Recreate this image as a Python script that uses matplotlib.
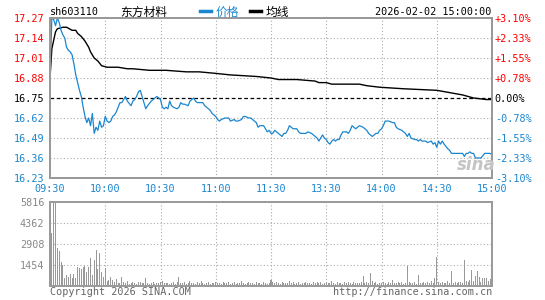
import numpy as np
import matplotlib.pyplot as plt
from matplotlib.lines import Line2D

# ---- data ----
code = 'sh603110'
name = '东方材料'
stamp = '2026-02-02 15:00:00'
prev_close = 16.75

price_ticks = [17.27, 17.14, 17.01, 16.88, 16.75, 16.62, 16.49, 16.36, 16.23]
pct_labels = ['+3.10%', '+2.33%', '+1.55%', '+0.78%', '0.00%',
              '-0.78%', '-1.55%', '-2.33%', '-3.10%']
time_labels = ['09:30', '10:00', '10:30', '11:00', '11:30',
               '13:30', '14:00', '14:30', '15:00']
vol_ticks = [1454, 2908, 4362, 5816]

price_min = [0, 1, 2, 3, 4, 5, 6, 7, 8, 9, 10, 11, 12, 13, 14, 15, 16, 17, 18, 19,
             20, 21, 22, 23, 24, 25, 26, 27, 28, 29, 30, 31, 32, 33, 34, 35, 36, 37, 38, 39,
             40, 41, 42, 44, 45, 46, 47, 48, 49, 50, 51, 52, 53, 55, 56, 58, 59, 60, 61, 62,
             63, 64, 65, 66, 67, 69, 70, 71, 72, 73, 75, 76, 77, 78, 79, 80, 81, 83, 84, 85,
             87, 88, 90, 91, 92, 93, 95, 96, 97, 98, 100, 101, 102, 104, 105, 106, 108, 109, 110, 112,
             113, 114, 116, 117, 118, 119, 120, 121, 122, 123, 125, 126, 127, 128, 129, 130, 131, 132, 134, 135,
             136, 138, 139, 140, 142, 143, 145, 146, 147, 148, 149, 150, 151, 152, 153, 154, 155, 156, 157, 158,
             159, 160, 161, 162, 163, 164, 165, 166, 167, 168, 170, 171, 172, 173, 174, 175, 176, 177, 178, 179,
             180, 181, 182, 184, 186, 187, 188, 189, 191, 192, 193, 194, 195, 196, 198, 199, 200, 201, 202, 203,
             204, 205, 207, 208, 209, 210, 211, 212, 213, 214, 216, 217, 218, 219, 221, 223, 224, 225, 226, 227,
             228, 229, 230, 231, 233, 234, 236, 237, 239, 240]
price = [16.88, 17.27, 17.26, 17.22, 17.27, 17.24, 17.19, 17.16, 17.14, 17.08, 17.06, 17.05, 17.03, 16.97, 16.90, 16.85, 16.80, 16.76, 16.69, 16.63,
         16.59, 16.62, 16.57, 16.65, 16.52, 16.56, 16.54, 16.60, 16.56, 16.57, 16.63, 16.60, 16.59, 16.60, 16.63, 16.64, 16.66, 16.69, 16.72, 16.72,
         16.74, 16.76, 16.73, 16.70, 16.73, 16.74, 16.76, 16.79, 16.80, 16.76, 16.72, 16.68, 16.70, 16.73, 16.74, 16.76, 16.75, 16.74, 16.69, 16.68,
         16.69, 16.68, 16.73, 16.70, 16.69, 16.68, 16.69, 16.72, 16.71, 16.71, 16.70, 16.73, 16.74, 16.75, 16.73, 16.72, 16.72, 16.72, 16.70, 16.69,
         16.67, 16.65, 16.63, 16.61, 16.60, 16.61, 16.62, 16.62, 16.62, 16.60, 16.61, 16.60, 16.60, 16.61, 16.63, 16.63, 16.62, 16.62, 16.61, 16.59,
         16.56, 16.57, 16.57, 16.55, 16.53, 16.54, 16.52, 16.52, 16.54, 16.53, 16.51, 16.50, 16.52, 16.52, 16.54, 16.57, 16.56, 16.55, 16.55, 16.53,
         16.52, 16.52, 16.52, 16.53, 16.52, 16.51, 16.49, 16.47, 16.49, 16.51, 16.49, 16.48, 16.46, 16.45, 16.47, 16.48, 16.47, 16.48, 16.48, 16.51,
         16.53, 16.53, 16.53, 16.52, 16.54, 16.57, 16.56, 16.55, 16.56, 16.57, 16.56, 16.55, 16.54, 16.52, 16.51, 16.50, 16.51, 16.52, 16.52, 16.54,
         16.55, 16.57, 16.60, 16.60, 16.59, 16.59, 16.56, 16.55, 16.54, 16.53, 16.52, 16.50, 16.52, 16.49, 16.48, 16.48, 16.47, 16.48, 16.47, 16.47,
         16.47, 16.46, 16.47, 16.45, 16.46, 16.43, 16.47, 16.45, 16.47, 16.45, 16.42, 16.41, 16.39, 16.39, 16.39, 16.39, 16.39, 16.37, 16.39, 16.39,
         16.40, 16.39, 16.39, 16.36, 16.36, 16.36, 16.39, 16.39, 16.39, 16.38]

avg_min = [0, 1, 3, 4, 7, 9, 12, 14, 15, 17, 19, 21, 22, 24, 25, 26, 28, 31, 37, 42,
           45, 54, 63, 74, 81, 90, 98, 112, 120, 124, 134, 144, 146, 150, 153, 168, 172, 179, 192, 210,
           224, 230, 237, 240]
avg = [16.88, 17.07, 17.18, 17.20, 17.21, 17.21, 17.19, 17.19, 17.17, 17.15, 17.12, 17.08, 17.05, 17.01, 17.00, 16.99, 16.96, 16.95, 16.95, 16.94,
       16.94, 16.93, 16.93, 16.92, 16.92, 16.91, 16.90, 16.89, 16.88, 16.87, 16.87, 16.86, 16.85, 16.85, 16.84, 16.84, 16.83, 16.82, 16.81, 16.80,
       16.77, 16.75, 16.74, 16.74]

volume = [460, 3650, 7200, 6500, 2610, 2420, 1680, 1450, 530, 760,
          640, 830, 530, 830, 530, 1290, 1220, 1150, 1340, 1380,
          990, 1290, 1920, 760, 1800, 2490, 1150, 2300, 990, 600,
          1220, 370, 415, 600, 415, 300, 460, 230, 180, 600,
          260, 190, 320, 150, 240, 280, 210, 170, 250, 300,
          220, 180, 530, 240, 160, 200, 270, 150, 230, 190,
          260, 370, 210, 180, 240, 150, 220, 300, 170, 250,
          600, 230, 190, 280, 160, 210, 370, 240, 180, 150,
          260, 210, 330, 190, 170, 240, 280, 150, 220, 200,
          310, 180, 240, 160, 270, 210, 190, 250, 150, 230,
          280, 170, 220, 190, 360, 240, 160, 210, 300, 180,
          230, 150, 260, 190, 220, 170, 280, 240, 160, 210,
          420, 250, 190, 300, 220, 160, 270, 180, 240, 210,
          330, 190, 260, 150, 220, 280, 170, 240, 200, 310,
          180, 230, 160, 270, 210, 250, 190, 300, 170, 220,
          260, 180, 240, 350, 200, 160, 290, 210, 230, 170,
          250, 190, 280, 220, 160, 310, 200, 240, 180, 260,
          690, 240, 300, 180, 920, 350, 210, 260, 170, 230,
          190, 280, 220, 160, 250, 200, 415, 230, 180, 270,
          210, 300, 170, 240, 1380, 260, 190, 220, 280, 170,
          760, 230, 190, 300, 210, 250, 180, 370, 240, 530,
          2030, 260, 210, 290, 180, 240, 320, 200, 1060, 230,
          270, 190, 310, 250, 210, 1800, 330, 280, 420, 1110,
          350, 690, 1040, 600, 300, 530, 530, 530, 380, 460,
          300]

BLUE = '#1a86d0'
RED = '#ff0000'
GRAY = '#999999'
MONO = 'DejaVu Sans Mono'
CJK = ['Noto Sans CJK SC', 'DejaVu Sans']

W, H = 545, 300


def fx(px):
    return px / W


def fy(py):
    return 1 - py / H


fig = plt.figure(figsize=(5.45, 3.0), dpi=100)
ax = fig.add_axes([fx(50), fy(178), 442 / W, 160 / H])
axv = fig.add_axes([fx(50), fy(286), 442 / W, 84 / H])

xt = np.arange(0, 241, 30)

# price panel
ax.set_xlim(0, 240)
ax.set_ylim(price_ticks[-1], price_ticks[0])
for t in xt[1:-1]:
    ax.axvline(t, color='#aaaaaa', lw=0.8, ls=(0, (1, 2)), zorder=1)
for t in price_ticks[1:-1]:
    if t != prev_close:
        ax.axhline(t, color='#aaaaaa', lw=0.8, ls=(0, (1, 2)), zorder=1)
ax.axhline(prev_close, color='black', lw=0.9, ls=(0, (3, 2)), zorder=2)

ax.plot(avg_min, avg, color='black', lw=1.0, zorder=3)
ax.plot(price_min, price, color=BLUE, lw=0.9, zorder=4)

ax.set_yticks(price_ticks)
ax.set_yticklabels([f'{v:.2f}' for v in price_ticks], fontfamily=MONO, fontsize=7.3)
for lab, v in zip(ax.get_yticklabels(), price_ticks):
    lab.set_color(RED if v > prev_close else (BLUE if v < prev_close else 'black'))
ax.set_xticks(xt)
ax.set_xticklabels(time_labels, fontfamily=MONO, fontsize=7.3, color=BLUE)
ax.tick_params(length=0, pad=4)

axr = ax.twinx()
axr.set_ylim(ax.get_ylim())
axr.set_yticks(price_ticks)
axr.set_yticklabels(pct_labels, fontfamily=MONO, fontsize=7.3)
for lab, v in zip(axr.get_yticklabels(), price_ticks):
    lab.set_color(RED if v > prev_close else (BLUE if v < prev_close else 'black'))
axr.tick_params(length=0, pad=2)

for a in (ax, axr, axv):
    for s in a.spines.values():
        s.set_color(GRAY)
        s.set_linewidth(1.4)

# volume panel
axv.set_xlim(0, 240)
axv.set_ylim(0, vol_ticks[-1])
for t in xt[1:-1]:
    axv.axvline(t, color='#aaaaaa', lw=0.8, ls=(0, (1, 2)), zorder=1)
for t in vol_ticks[:-1]:
    axv.axhline(t, color='#aaaaaa', lw=0.8, ls=(0, (1, 2)), zorder=1)
axv.bar(np.arange(len(volume)), volume, width=0.55, color=GRAY, zorder=2)
axv.set_xticks([])
axv.set_yticks(vol_ticks)
axv.set_yticklabels([str(v) for v in vol_ticks], fontfamily=MONO, fontsize=7.3, color='#888888')
axv.tick_params(length=0, pad=4)

# header
fig.text(fx(50), fy(12), code, fontfamily=MONO, fontsize=7.3, va='center', ha='left')
fig.text(fx(120), fy(12), name, fontfamily=CJK, fontsize=8.5, va='center', ha='left')
fig.add_artist(Line2D([fx(200), fx(211)], [fy(11), fy(11)], color=BLUE, lw=2.5, transform=fig.transFigure))
fig.text(fx(216), fy(12), '价格', fontfamily=CJK, fontsize=8.5, va='center', ha='left', color=BLUE)
fig.add_artist(Line2D([fx(250), fx(261)], [fy(11), fy(11)], color='black', lw=2.5, transform=fig.transFigure))
fig.text(fx(266), fy(12), '均线', fontfamily=CJK, fontsize=8.5, va='center', ha='left')
fig.text(fx(491), fy(12), stamp, fontfamily=MONO, fontsize=7.3, va='center', ha='right')

# footer
fig.text(fx(50), fy(292), 'Copyright 2026 SINA.COM', fontfamily=MONO, fontsize=7.3,
         va='center', ha='left', color='#666666')
fig.text(fx(492), fy(292), 'http://finance.sina.com.cn', fontfamily=MONO, fontsize=7.3,
         va='center', ha='right', color='#666666')

# watermark
fig.text(fx(457), fy(165), 'sina', fontsize=12, fontweight='bold', style='italic',
         color='#c4c4c4', va='center', ha='left', zorder=0)

fig.savefig('out.png', dpi=100)
